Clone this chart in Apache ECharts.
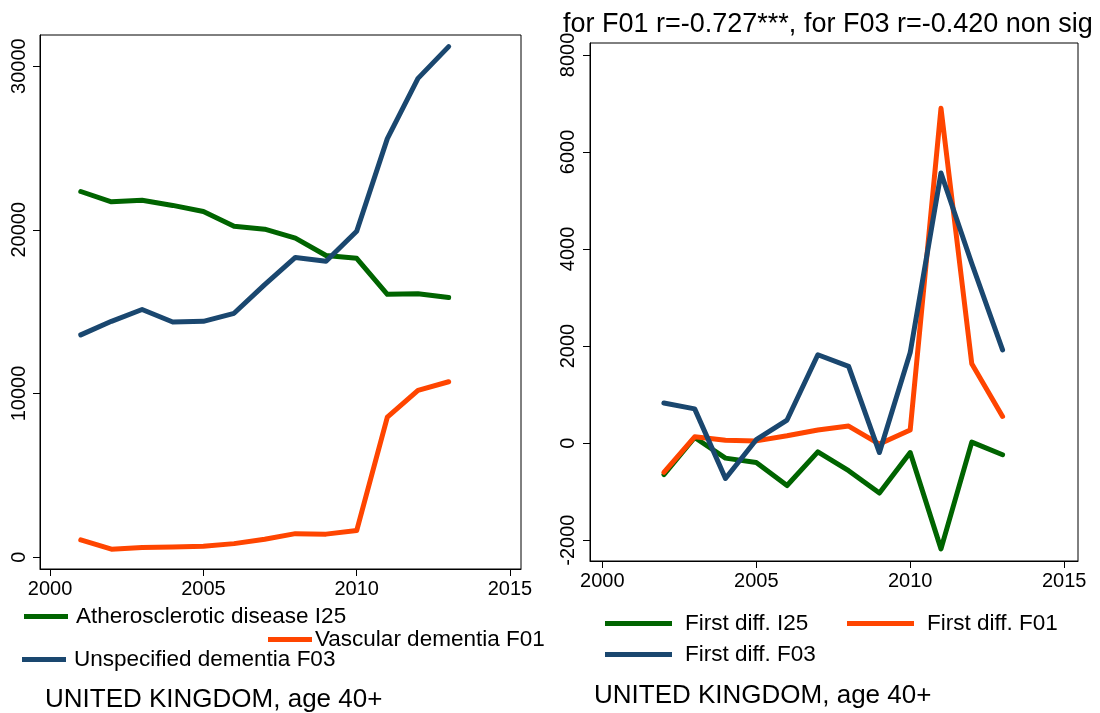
<!DOCTYPE html>
<html>
<head>
<meta charset="utf-8">
<style>
  html, body { margin: 0; padding: 0; background: #fff; }
  #chart { width: 1100px; height: 713px; }
</style>
<script src="https://cdn.jsdelivr.net/npm/echarts@6/dist/echarts.min.js"></script>
</head>
<body>
<div id="chart"></div>
<script>
// Deaths by cause, United Kingdom, age 40+
const years = [2001, 2002, 2003, 2004, 2005, 2006, 2007, 2008, 2009, 2010, 2011, 2012, 2013];
const i25 = [22340, 21710, 21810, 21490, 21120, 20220, 20040, 19490, 18430, 18260, 16060, 16090, 15860];
const f01 = [1060, 490, 600, 630, 670, 830, 1100, 1440, 1410, 1630, 8560, 10190, 10720];
const f03 = [13580, 14410, 15130, 14370, 14410, 14900, 16650, 18310, 18080, 19910, 25570, 29250, 31190];

// Year-on-year first differences
const diffYears = [2002, 2003, 2004, 2005, 2006, 2007, 2008, 2009, 2010, 2011, 2012, 2013];
const dI25 = [-650, 115, -310, -400, -875, -180, -570, -1030, -195, -2180, 20, -240];
const dF01 = [-605, 130, 60, 45, 150, 270, 350, -20, 270, 6900, 1635, 550];
const dF03 = [825, 705, -730, 70, 475, 1820, 1580, -195, 1865, 5565, 3700, 1920];

// Tick marks
const yearTicks = [2000, 2005, 2010, 2015];
const levelTicks = [0, 10000, 20000, 30000];
const diffTicks = [-2000, 0, 2000, 4000, 6000, 8000];

const names = {
  i25: 'Atherosclerotic disease I25',
  f01: 'Vascular dementia F01',
  f03: 'Unspecified dementia F03',
  dI25: 'First diff. I25',
  dF01: 'First diff. F01',
  dF03: 'First diff. F03'
};
const subtitle = 'UNITED KINGDOM, age 40+';
const corrText = 'for F01 r=-0.727***, for F03 r=-0.420 non sig';

const GREEN = '#006400';
const ORANGE = '#ff4500';
const NAVY = '#1a476f';
const FONT = 'Liberation Sans, Arial, Helvetica, sans-serif';

const pairs = (xs, ys) => xs.map((x, i) => [x, ys[i]]);

function xAxisCfg(gridIndex, min, max) {
  return {
    type: 'value', gridIndex, min, max,
    axisLine: { show: true, onZero: false, lineStyle: { color: '#000', width: 1 } },
    axisTick: { show: true, length: 7, customValues: yearTicks, lineStyle: { color: '#000' } },
    axisLabel: { show: true, margin: 10, customValues: yearTicks, fontSize: 20, color: '#000',
                 fontFamily: FONT, formatter: v => String(v) },
    splitLine: { show: false }
  };
}
function yAxisCfg(gridIndex, min, max, ticks, margin) {
  return {
    type: 'value', gridIndex, min, max,
    axisLine: { show: true, onZero: false, lineStyle: { color: '#000', width: 1 } },
    axisTick: { show: true, length: 7, customValues: ticks, lineStyle: { color: '#000' } },
    axisLabel: { show: true, rotate: 90, margin, customValues: ticks, fontSize: 20, color: '#000',
                 fontFamily: FONT, formatter: v => String(v) },
    splitLine: { show: false }
  };
}
function lineSeries(name, data, color, xi, yi) {
  return {
    type: 'line', name, data, xAxisIndex: xi, yAxisIndex: yi,
    symbol: 'none', color,
    lineStyle: { color, width: 5, cap: 'round', join: 'round' },
    itemStyle: { color },
    z: 3
  };
}
function legendCfg(name, left, centerY, itemWidth, textGap) {
  return {
    data: [name], left, top: centerY - 11, padding: 0,
    icon: 'rect', itemWidth, itemHeight: 5, itemGap: 0,
    textStyle: { fontSize: 22.5, color: '#000', fontFamily: FONT, lineHeight: 22,
                 padding: [0, 0, 0, textGap - 5] },
    selectedMode: false
  };
}
function titleCfg(text, left, centerY, size) {
  return {
    text, left, top: centerY - size / 2, padding: 0,
    textStyle: { fontSize: size, fontWeight: 'normal', color: '#000', fontFamily: FONT, lineHeight: size }
  };
}

const chart = echarts.init(document.getElementById('chart'), null, { renderer: 'canvas' });
chart.setOption({
  animation: false,
  backgroundColor: '#fff',
  textStyle: { fontFamily: FONT },
  title: [
    titleCfg(subtitle, 45, 700, 26),
    titleCfg(subtitle, 594, 696, 26),
    titleCfg(corrText, 563, 25, 27)
  ],
  legend: [
    legendCfg(names.i25, 24, 616, 44, 8),
    legendCfg(names.f01, 268, 639, 44, 3),
    legendCfg(names.f03, 22, 659, 44, 8),
    legendCfg(names.dI25, 605, 623, 67, 13),
    legendCfg(names.dF01, 847, 623, 67, 13),
    legendCfg(names.dF03, 605, 654, 67, 13)
  ],
  grid: [
    { left: 40, top: 35, width: 481, height: 534, show: true, borderColor: '#000', borderWidth: 1, containLabel: false },
    { left: 590, top: 43, width: 488, height: 518, show: true, borderColor: '#000', borderWidth: 1, containLabel: false }
  ],
  xAxis: [
    xAxisCfg(0, 1999.67, 2015.36),
    xAxisCfg(1, 1999.6, 2015.45)
  ],
  yAxis: [
    yAxisCfg(0, -720, 31900, levelTicks, 11),
    yAxisCfg(1, -2430, 8245, diffTicks, 12)
  ],
  series: [
    lineSeries(names.i25, pairs(years, i25), GREEN, 0, 0),
    lineSeries(names.f01, pairs(years, f01), ORANGE, 0, 0),
    lineSeries(names.f03, pairs(years, f03), NAVY, 0, 0),
    lineSeries(names.dI25, pairs(diffYears, dI25), GREEN, 1, 1),
    lineSeries(names.dF01, pairs(diffYears, dF01), ORANGE, 1, 1),
    lineSeries(names.dF03, pairs(diffYears, dF03), NAVY, 1, 1)
  ]
});
</script>
</body>
</html>
